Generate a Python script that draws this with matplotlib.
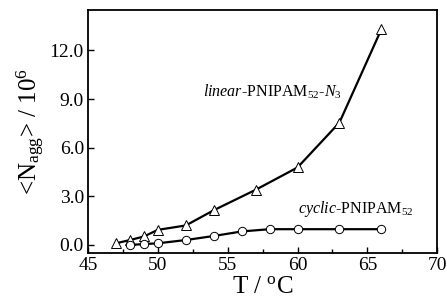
import numpy as np
import matplotlib
matplotlib.use('Agg')
import matplotlib.pyplot as plt
from matplotlib.ticker import MultipleLocator

plt.rcParams['font.family'] = 'Liberation Serif'
plt.rcParams['mathtext.fontset'] = 'custom'
plt.rcParams['mathtext.rm'] = 'Liberation Serif'
plt.rcParams['mathtext.it'] = 'Liberation Serif:italic'

# data
T_linear = [47, 48, 49, 50, 52, 54, 57, 60, 63, 66]
N_linear = [0.1, 0.3, 0.52, 0.93, 1.2, 2.14, 3.4, 4.78, 7.55, 13.3]
T_cyclic = [48, 49, 50, 52, 54, 56, 58, 60, 63, 66]
N_cyclic = [0.0, 0.05, 0.1, 0.3, 0.55, 0.83, 0.97, 0.97, 0.97, 0.97]

fig = plt.figure(figsize=(4.47, 3.03), dpi=100)
ax = fig.add_axes([0.197, 0.165, 0.781, 0.802])

ax.plot(T_linear, N_linear, '-^', color='black', lw=1.6, ms=7,
        mfc='white', mec='black', mew=0.7)
ax.plot(T_cyclic, N_cyclic, '-o', color='black', lw=1.6, ms=6,
        mfc='white', mec='black', mew=0.7)

ax.set_xlim(45, 70)
ax.set_ylim(-0.5, 14.5)
ax.xaxis.set_major_locator(MultipleLocator(5))
ax.xaxis.set_minor_locator(MultipleLocator(2.5))
ax.set_yticks([0, 3, 6, 9, 12])
ax.set_yticklabels(['0.0', '3.0', '6.0', '9.0', '12.0'])
ax.tick_params(which='both', direction='in', top=False, right=False,
               labelsize=14, width=1.0, pad=3)
ax.tick_params(which='major', length=4)
ax.tick_params(which='minor', length=3)
for s in ax.spines.values():
    s.set_linewidth(1.3)

ax.set_xlabel(r'T / $^{\rm o}$C', fontsize=18, labelpad=1)
ax.set_ylabel(r'<N$_{\rm agg}$> / 10$^6$', fontsize=18, labelpad=2)

ax.text(53.2, 9.15, r'$\mathit{linear}$-PNIPAM$_{52}$-$\mathit{N}_3$', fontsize=11.5)
ax.text(60.0, 1.95, r'$\mathit{cyclic}$-PNIPAM$_{52}$', fontsize=11.5)

fig.savefig('out.png', dpi=100)
